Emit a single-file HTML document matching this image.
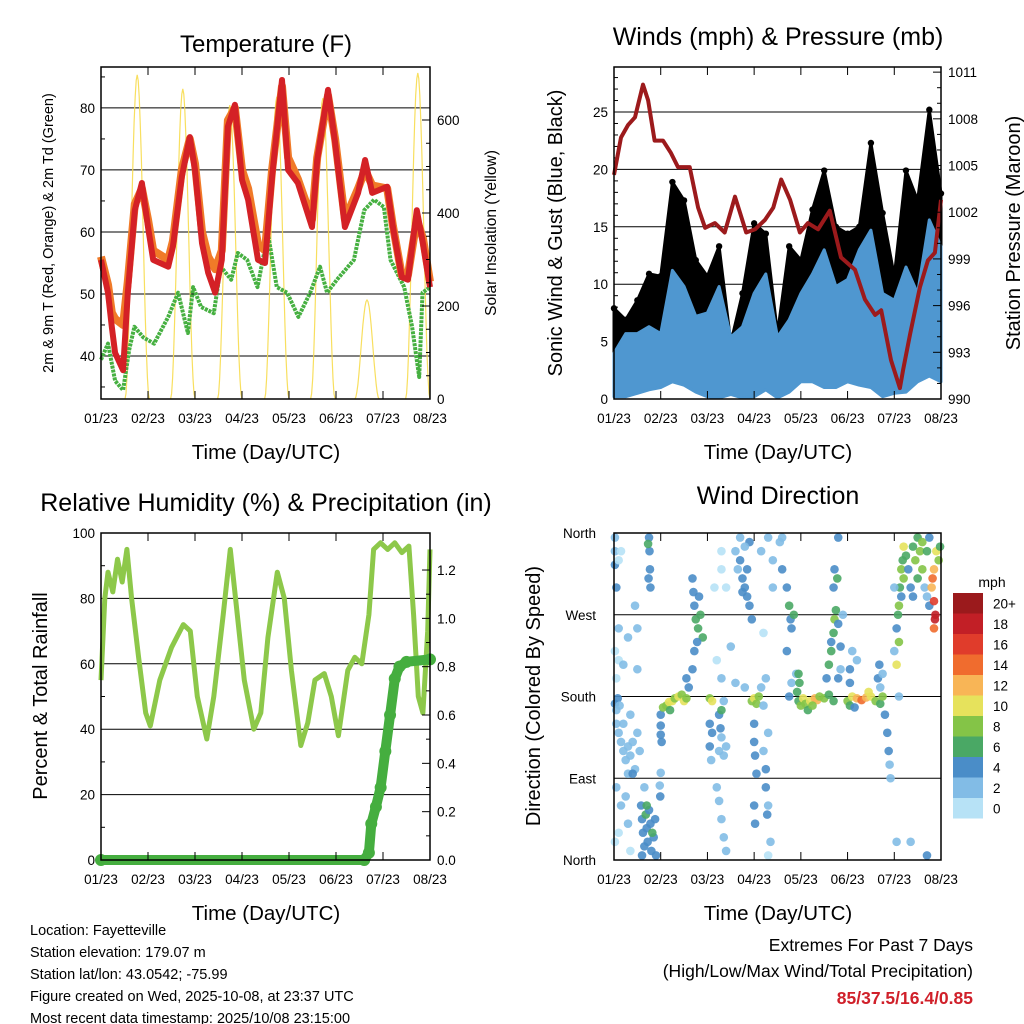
<!DOCTYPE html>
<html><head><meta charset="utf-8"><style>
body{margin:0;background:#fff;}
svg{display:block;font-family:"Liberation Sans",Arial,sans-serif;}
</style></head><body>
<svg id="s" width="1024" height="1024" viewBox="0 0 1024 1024">
<g id="g"></g>
<text x="266" y="52" font-size="24" text-anchor="middle">Temperature (F)</text>
<text x="778" y="45" font-size="25" text-anchor="middle">Winds (mph) &amp; Pressure (mb)</text>
<text x="266" y="511" font-size="25" text-anchor="middle">Relative Humidity (%) &amp; Precipitation (in)</text>
<text x="778" y="504" font-size="25" text-anchor="middle">Wind Direction</text>
<text x="266" y="459" font-size="20.5" text-anchor="middle">Time (Day/UTC)</text>
<text x="778" y="459" font-size="20.5" text-anchor="middle">Time (Day/UTC)</text>
<text x="266" y="920" font-size="20.5" text-anchor="middle">Time (Day/UTC)</text>
<text x="778" y="920" font-size="20.5" text-anchor="middle">Time (Day/UTC)</text>
<text transform="translate(53,233) rotate(-90)" font-size="14.5" text-anchor="middle">2m &amp; 9m T (Red, Orange) &amp; 2m Td (Green)</text>
<text transform="translate(496,233) rotate(-90)" font-size="15.5" text-anchor="middle">Solar Insolation (Yellow)</text>
<text transform="translate(562,233) rotate(-90)" font-size="20" text-anchor="middle">Sonic Wind &amp; Gust (Blue, Black)</text>
<text transform="translate(1020,233) rotate(-90)" font-size="20" text-anchor="middle">Station Pressure (Maroon)</text>
<text transform="translate(47,696) rotate(-90)" font-size="20" text-anchor="middle">Percent &amp; Total Rainfall</text>
<text transform="translate(540,696) rotate(-90)" font-size="20" text-anchor="middle">Direction (Colored By Speed)</text>
<text x="992" y="587" font-size="14" text-anchor="middle">mph</text>
<g font-size="14.5">
<text x="30" y="935">Location: Fayetteville</text>
<text x="30" y="957">Station elevation: 179.07 m</text>
<text x="30" y="979">Station lat/lon: 43.0542; -75.99</text>
<text x="30" y="1001">Figure created on Wed, 2025-10-08, at 23:37 UTC</text>
<text x="30" y="1023">Most recent data timestamp: 2025/10/08 23:15:00</text>
</g>
<g font-size="17.5" text-anchor="end">
<text x="973" y="951">Extremes For Past 7 Days</text>
<text x="973" y="977">(High/Low/Max Wind/Total Precipitation)</text>
<text x="973" y="1004" fill="#d0202a" font-weight="bold">85/37.5/16.4/0.85</text>
</g>
</svg>
<script>
// ---- Temperature data ----
const tempT=[0,0.15,0.23,0.3,0.47,0.57,0.72,0.87,1.0,1.11,1.43,1.53,1.72,1.89,2.0,2.15,2.28,2.43,2.57,2.7,2.85,3.0,3.13,3.34,3.49,3.64,3.85,3.98,4.19,4.49,4.6,4.83,4.98,5.19,5.47,5.62,5.77,6.09,6.21,6.4,6.53,6.72,6.85,7.0];
const tempRed=[55.5,50.2,44.7,40.5,37.7,50.2,63.5,67.9,60.8,55.5,54.4,57.6,68.9,75.3,70,58.2,53.4,50.2,55.5,77,80.5,68.4,65.2,55.5,55,68.9,84.5,70,67.9,60.8,71.6,82.9,74.4,60.8,66.3,71.6,66.3,67.3,60.8,52.7,52.3,63.5,58.2,51.1];
const tempOrange=[56,51.5,47,46,45,52,64.5,67,62,57,55.5,58.5,70,75,71,60,56,54,57,78,80,70,67,58,57,70,83.5,72,68.5,62,72,82,75,62,67,70,67.5,67,61,53,53,62,59,52];
const tdT=[0,0.15,0.3,0.47,0.6,0.71,0.9,1.13,1.43,1.64,1.85,1.96,2.13,2.4,2.55,2.77,2.91,3.11,3.33,3.55,3.74,3.96,4.2,4.45,4.66,4.81,5.02,5.38,5.6,5.81,6.02,6.16,6.45,6.62,6.77,6.84,7.0];
const tdVal=[39.4,42,36,34.5,41,44.7,43,42,46.3,50.2,43.7,51.1,47.9,46.9,54.4,52.3,56.6,55.5,51.1,59.8,51.1,50.2,46.3,50.2,54.4,50.2,52.3,55.5,63.5,65.2,64,55.5,51.1,44.7,36.6,50.2,51.1];
const solarPeakT=[0.77,1.74,2.74,3.74,4.72,5.66,6.74];
const solarPeak=[697,667,632,650,647,213,701];
const tempTicks=[40,50,60,70,80];
const solarTicks=[0,200,400,600];
const dateLabels=["01/23","02/23","03/23","04/23","05/23","06/23","07/23","08/23"];
// ---- Wind data ----
const windT=[0,0.25,0.5,0.75,1,1.25,1.5,1.75,2,2.25,2.5,2.75,3,3.25,3.5,3.75,4,4.25,4.5,4.75,5,5.25,5.5,5.75,6,6.25,6.5,6.75,7];
const blueHigh=[4.0,5.7,5.7,6.3,5.7,11.2,9.8,7.2,7.5,9.8,5.4,6.3,9.2,10.9,5.4,6.9,9.2,10.9,13.0,9.8,10.4,13.0,14.7,9.2,8.6,11.5,9.2,15.6,13.3];
const blueLow=[0.2,0.2,0.5,0.8,1,1.5,1.2,0.6,0.2,0.1,0.4,0.1,0.2,0.8,0.1,0.6,1.5,1.5,1,1,1.5,1.2,1,0.2,0.5,0.6,1.5,2,1.5];
const gustHigh=[7.9,6.9,8.6,10.9,10.7,18.9,17.3,12.1,10.7,13.3,4.9,9.2,15.3,14.4,5.7,13.3,12.1,16.5,19.9,15.0,14.4,15.0,22.3,16.2,10.7,19.9,17.3,25.2,17.9];
const gustLow=[3.5,5,5,5.5,5,9,8.5,6,6,8,4.5,5,8,9,4.5,6,8,9.5,11,8.5,9,11,12,8,7,10,8,13,11];
const presT=[0,0.15,0.3,0.45,0.62,0.73,0.87,1.05,1.22,1.37,1.62,1.8,1.95,2.16,2.37,2.59,2.83,3.02,3.23,3.41,3.58,3.77,3.98,4.15,4.37,4.62,4.86,5.16,5.37,5.59,5.72,5.93,6.12,6.19,6.34,6.55,6.72,6.87,7.0];
const presVal=[1004.4,1006.8,1007.6,1008.1,1010.2,1009.2,1006.6,1006.6,1005.8,1004.9,1004.9,1002.3,1001.0,1001.3,1000.7,1003.0,1000.7,1000.9,1001.5,1002.3,1004.1,1002.8,1000.7,1001.3,1000.9,1002.1,999.1,998.3,996.4,995.4,995.7,992.5,990.7,991.9,994.2,997.2,998.9,999.4,1002.8];
const windTicks=[0,5,10,15,20,25];
const presTicks=[990,993,996,999,1002,1005,1008,1011];
// ---- RH data ----
const rhT=[0,0.08,0.15,0.25,0.35,0.45,0.55,0.65,0.8,0.95,1.05,1.25,1.5,1.75,1.9,2.05,2.25,2.4,2.6,2.75,2.9,3.05,3.25,3.4,3.55,3.75,3.9,4.05,4.25,4.4,4.55,4.75,4.9,5.05,5.25,5.4,5.55,5.7,5.8,5.95,6.1,6.25,6.4,6.55,6.65,6.75,6.85,6.95,7.0];
const rhVal=[55,80,88,82,92,85,95,80,62,45,41,55,65,72,70,50,37,50,75,95,75,55,40,45,68,88,80,58,35,42,55,57,50,38,58,62,60,75,95,97,95,97,94,96,75,50,45,70,95];
const precT=[0,5.6,5.7,5.75,5.85,5.95,6.05,6.15,6.25,6.35,6.5,7.0];
const precVal=[0,0,0.03,0.15,0.22,0.3,0.45,0.6,0.75,0.8,0.82,0.83];
const rhTicks=[0,20,40,60,80,100];
const precTicks=[0,0.2,0.4,0.6,0.8,1.0,1.2];
// ---- Wind direction data ----
const wdT=[0.02,0.02,0.05,0.02,0.1,0.15,0.02,0.05,0.08,0.12,0.05,0.1,0.15,0.2,0.25,0.3,0.35,0.4,0.45,0.3,0.5,0.55,0.2,0.35,0.05,0.02,0.1,0.4,0.05,0.15,0.25,0.3,0.1,0.35,0.02,0.58,0.6,0.62,0.65,0.68,0.7,0.72,0.75,0.78,0.8,0.85,0.88,0.9,0.6,0.7,0.82,0.65,0.75,0.76,0.77,0.74,0.78,0.73,0.5,0.45,0.2,0.3,0.5,0.1,1.0,1.0,1.0,1.02,1.0,0.98,0.99,1.05,1.12,1.18,1.25,1.3,1.38,1.45,1.5,1.55,1.2,1.6,1.55,1.68,1.7,1.72,1.75,1.8,1.85,1.9,1.78,1.82,1.72,1.68,2.05,2.1,2.05,2.1,2.05,2.08,2.25,2.28,2.3,2.25,2.35,2.4,2.3,2.35,2.2,2.25,2.3,2.35,2.4,2.3,2.2,2.15,2.3,2.3,2.6,2.65,2.7,2.75,2.8,2.85,2.9,2.7,2.9,2.95,2.8,2.75,2.85,2.5,2.6,2.8,2.4,2.95,3.0,3.05,3.1,3.0,3.0,3.02,3.05,3.0,3.02,3.2,3.25,3.25,3.3,3.3,3.35,3.3,3.28,3.2,3.15,3.25,3.2,3.15,3.4,3.4,3.3,3.55,3.6,3.6,3.7,3.75,3.78,3.8,3.85,3.7,3.75,3.8,3.9,3.92,3.95,4.0,4.05,4.1,4.2,4.3,4.35,4.4,4.5,4.6,4.7,4.15,4.25,3.95,3.97,4.55,4.6,4.65,4.7,4.72,4.75,4.7,4.72,4.65,4.8,4.85,4.8,4.78,4.9,4.85,4.8,5.0,5.05,5.1,5.2,5.3,5.4,5.5,5.6,5.7,5.75,5.15,5.45,5.05,5.05,5.1,5.2,5.65,5.68,5.7,5.8,5.85,5.88,5.9,5.92,5.75,6.0,6.05,6.08,6.1,6.12,6.15,6.18,6.2,6.1,6.05,6.15,6.2,6.25,6.0,6.1,6.05,6.3,6.35,6.4,6.4,6.45,6.5,6.5,6.55,6.6,6.65,6.7,6.75,6.8,6.82,6.85,6.88,6.85,6.9,6.95,6.98,6.6,6.7,6.75,6.85,6.87,6.7,6.35];
const wdDir=[340,325,300,355,330,340,172,165,178,170,150,140,130,120,110,125,115,130,100,95,140,120,150,160,200,230,220,95,80,60,70,40,30,10,20,60,45,30,15,50,35,20,55,40,10,25,45,5,5,60,30,80,355,340,320,310,300,348,255,280,215,245,210,255,160,148,138,130,96,82,70,168,170,174,175,178,180,182,175,178,165,190,200,310,295,280,265,255,270,245,240,290,230,210,178,175,150,140,125,110,160,145,135,120,115,125,165,175,80,65,45,25,10,200,220,300,340,320,340,320,330,310,300,290,280,355,350,265,345,295,320,235,195,190,300,175,178,172,180,150,130,115,95,60,40,120,100,80,60,140,20,5,50,170,190,200,250,340,300,330,355,350,355,320,300,280,265,255,270,230,180,195,205,185,175,170,178,172,175,178,176,180,178,182,175,165,170,205,195,200,215,230,250,265,275,300,320,240,260,235,200,310,270,210,355,175,170,180,178,176,179,180,175,172,180,168,185,195,210,230,220,200,215,190,160,140,120,105,90,205,230,255,270,280,300,320,330,310,240,215,290,345,335,300,180,20,320,300,290,345,330,310,355,340,320,300,290,280,300,310,285,270,320,340,330,345,350,340,355,255,265,5,20];
const wdSpd=[3,4,4,2,1,1,4,3,4,2,2,3,2,3,2,3,2,2,3,3,3,2,2,3,1,1,1,4,2,3,2,2,1,1,1,4,4,5,4,6,4,4,4,5,4,4,4,4,4,7,6,3,4,4,4,4,4,6,2,2,2,2,2,2,4,4,4,4,3,3,4,8,9,10,10,9,10,8,10,8,6,4,4,4,4,5,6,6,7,6,4,4,4,4,8,10,4,4,4,3,4,4,3,3,3,3,6,2,2,2,2,2,3,2,1,1,1,1,2,2,4,4,4,4,4,2,4,4,3,4,4,2,2,2,1,9,10,9,8,4,4,4,4,4,4,3,4,4,3,2,2,1,4,2,2,2,1,2,2,2,2,2,2,4,4,6,4,5,6,4,4,3,3,6,6,8,10,9,10,12,13,9,8,7,6,6,8,6,6,5,6,6,7,8,6,4,4,4,4,4,4,7,2,2,4,8,6,10,12,14,13,10,8,7,9,4,10,4,4,2,2,4,4,3,4,4,4,3,2,3,3,5,6,8,7,8,6,9,9,10,5,11,7,2,2,2,4,5,4,6,8,6,7,8,9,3,3,4,12,14,16,18,12,10,8,7,8,6,4,14,18,4,3];
const spdLabels=["0","2","4","6","8","10","12","14","16","18","20+"];
const spdColors=["#b7e2f6","#82bce6","#4a8dc8","#4aa865","#84c447","#e6e25c","#f8b556","#f06c2e","#e03c2b","#c21f26","#9b1a1c"];
const dirLabels=["North","East","South","West","North"];

const NS="http://www.w3.org/2000/svg";
const G=document.getElementById('g');
function mk(tag,attrs,parent){const e=document.createElementNS(NS,tag);for(const k in attrs)e.setAttribute(k,attrs[k]);(parent||G).appendChild(e);return e;}
function lin(d0,d1,r0,r1){return v=>r0+(v-d0)/(d1-d0)*(r1-r0);}
function pathFrom(xs,ys,sx,sy){return xs.map((t,i)=>(i?'L':'M')+sx(t).toFixed(1)+','+sy(ys[i]).toFixed(1)).join('');}
function txt(x,y,s,anchor,size,name){const e=mk('text',{x:x,y:y,'font-size':size||13,'text-anchor':anchor||'middle'});e.textContent=s;


return e;}

function frame(x0,x1,y0,y1,name){
  const sx=lin(0,7,x0,x1);
  for(let i=0;i<=7;i++){const x=sx(i);
    mk('line',{x1:x,x2:x,y1:y0,y2:y0+8,stroke:'#000','stroke-width':1});
    mk('line',{x1:x,x2:x,y1:y1,y2:y1-8,stroke:'#000','stroke-width':1});
    txt(x,y1+24,dateLabels[i],'middle',13.5,'x-tick-label');
  }
  const r=mk('rect',{x:x0,y:y0,width:x1-x0,height:y1-y0,fill:'none',stroke:'#000','stroke-width':1.5});
  
  
}
function hgrid(vals,sy,x0,x1,labelX,fmt,name){
  vals.forEach(v=>{const y=sy(v);
    mk('line',{x1:x0,x2:x1,y1:y,y2:y,stroke:'#000','stroke-width':1});
    txt(labelX,y+5,fmt?fmt(v):String(v),'end',13.5,name);
  });
}
function rightTicks(vals,sy,x1,fmt,name,minor){
  vals.forEach(v=>{const y=sy(v);
    mk('line',{x1:x1,x2:x1-8,y1:y,y2:y,stroke:'#000','stroke-width':1});
    txt(x1+7,y+5,fmt?fmt(v):String(v),'start',13.5,name);
  });
  if(minor)for(let i=0;i<vals.length-1;i++){for(let k=1;k<minor;k++){const v=vals[i]+(vals[i+1]-vals[i])*k/minor;const y=sy(v);mk('line',{x1:x1,x2:x1-4,y1:y,y2:y,stroke:'#000','stroke-width':1});}}
}
function leftMinor(vals,sy,x0,n,ylo,yhi){for(let i=0;i<vals.length-1;i++)for(let k=1;k<n;k++){const y=sy(vals[i]+(vals[i+1]-vals[i])*k/n);if(y<ylo||y>yhi)continue;mk('line',{x1:x0,x2:x0+4,y1:y,y2:y,stroke:'#000','stroke-width':1});}}

// ===== Temperature panel =====
(function(){
 const x0=101,x1=430,y0=67,y1=399;
 const sx=lin(0,7,x0,x1), sy=lin(33.06,86.6,y1,y0), ss=lin(0,714,y1,y0);
 hgrid(tempTicks,sy,x0,x1,95,null,'temp-tick-label');
 leftMinor([30,40,50,60,70,80,90],sy,x0,2,y0,y1);
 solarPeakT.forEach((pt,i)=>{
   const pts=[];for(let k=-12;k<=12;k++){const dt=k/12*0.26;const v=solarPeak[i]*Math.pow(Math.cos(dt/0.26*Math.PI/2),2);pts.push(sx(pt+dt).toFixed(1)+','+ss(v).toFixed(1));}
   const p=mk('polyline',{points:pts.join(' '),fill:'none',stroke:'#f7dc4e','stroke-width':1.2,opacity:0.9});
   
   
 });
 const g=mk('path',{d:pathFrom(tdT,tdVal,sx,sy),fill:'none',stroke:'#46b041','stroke-width':4,'stroke-linejoin':'round','stroke-dasharray':'3 1'});
 
 
 const o=mk('path',{d:pathFrom(tempT,tempOrange,sx,sy),fill:'none',stroke:'#f07a28','stroke-width':8,'stroke-linejoin':'round'});
 
 
 const r=mk('path',{d:pathFrom(tempT,tempRed,sx,sy),fill:'none',stroke:'#d42126','stroke-width':6,'stroke-linejoin':'round'});
 
 
 rightTicks(solarTicks,ss,x1,null,'solar-tick-label',4);
 frame(x0,x1,y0,y1,'temperature');
})();

// ===== Wind panel =====
(function(){
 const x0=614,x1=941,y0=67,y1=399;
 const sx=lin(0,7,x0,x1), sy=lin(0,28.92,y1,y0), sp=lin(990,1011.33,y1,y0);
 hgrid(windTicks,sy,x0,x1,608,null,'wind-tick-label');
 leftMinor([0,5,10,15,20,25,30],sy,x0,5,y0,y1);
 const band=(hi,lo,col,name)=>{
   const d=windT.map((t,i)=>(i?'L':'M')+sx(t).toFixed(1)+','+sy(hi[i]).toFixed(1)).join('')+windT.slice().reverse().map((t,j)=>{const i=windT.length-1-j;return 'L'+sx(t).toFixed(1)+','+sy(lo[i]).toFixed(1);}).join('')+'Z';
   const p=mk('path',{d:d,fill:col,stroke:col,'stroke-width':3,'stroke-linejoin':'round'});
   
   
 };
 band(gustHigh,gustLow,'#000','gust-band');
 windT.forEach((t,i)=>{const c=mk('circle',{cx:sx(t),cy:sy(gustHigh[i]),r:3.2,fill:'#000'});
   
   });
 band(blueHigh,blueLow,'#4f97d0','sonic-wind-band');
 const p=mk('path',{d:pathFrom(presT,presVal,sx,sp),fill:'none',stroke:'#9c1a1c','stroke-width':4,'stroke-linejoin':'round'});
 
 
 rightTicks(presTicks,sp,x1,null,'pressure-tick-label',3);
 frame(x0,x1,y0,y1,'winds');
})();

// ===== RH panel =====
(function(){
 const x0=101,x1=430,y0=533,y1=860;
 const sx=lin(0,7,x0,x1), sy=lin(0,100,y1,y0), sp=lin(0,1.3532,y1,y0);
 hgrid(rhTicks,sy,x0,x1,95,null,'rh-tick-label');
 leftMinor(rhTicks,sy,x0,2,y0,y1);
 const l=mk('path',{d:pathFrom(rhT,rhVal,sx,sy),fill:'none',stroke:'#8dc84a','stroke-width':5,'stroke-linejoin':'round'});
 
 
 const pl=mk('path',{d:pathFrom(precT,precVal,sx,sp),fill:'none',stroke:'#45ae3f','stroke-width':10,'stroke-linejoin':'round','stroke-linecap':'round'});
 
 
 precT.forEach((t,i)=>{const c=mk('circle',{cx:sx(t),cy:sp(precVal[i]),r:6,fill:'#45ae3f'});
   
   });
 rightTicks(precTicks,sp,x1,v=>v.toFixed(1),'precip-tick-label',2);
 frame(x0,x1,y0,y1,'humidity');
})();

// ===== Wind direction panel =====
(function(){
 const x0=614,x1=941,y0=533,y1=860;
 const sx=lin(0,7,x0,x1), sy=lin(0,360,y1,y0);
 [0,90,180,270,360].forEach((v,i)=>{const y=sy(v);
   mk('line',{x1:x0,x2:x1,y1:y,y2:y,stroke:'#000','stroke-width':1});
   txt(596,y+5,dirLabels[i],'end',13.5,'direction-tick-label');});
 wdT.forEach((t,i)=>{
   const b=Math.min(10,Math.floor(wdSpd[i]/2));
   const c=mk('circle',{cx:sx(t),cy:sy(wdDir[i]),r:4.3,fill:spdColors[b],opacity:0.9});
   
   
 });
 frame(x0,x1,y0,y1,'wind-direction');
 const cb0=593,h=20.5;
 spdLabels.forEach((s,i)=>{const y=cb0+(10-i)*h;
   const r=mk('rect',{x:953,y:y,width:30,height:h,fill:spdColors[i]});
   
   
   txt(993,y+h/2+5,s,'start',13.5,'colorbar-label');
 });
})();
</script>
</body></html>
